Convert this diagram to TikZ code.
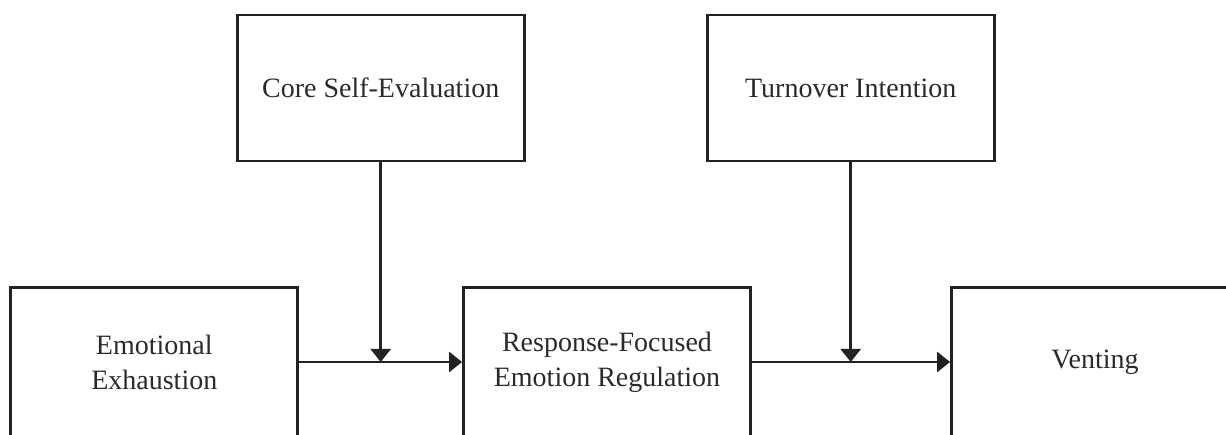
\documentclass[tikz,border=0pt]{standalone}
\usepackage{fontspec}
\setmainfont{Liberation Serif}
\usetikzlibrary{arrows.meta}
\definecolor{ink}{HTML}{222222}
\definecolor{txt}{HTML}{2A2A2A}
\begin{document}
\begin{tikzpicture}[x=1pt,y=-1pt,
  box/.style={draw=ink,line width=2.8pt,inner sep=0pt,minimum width=287pt,align=center,text=txt,
    font=\fontsize{28}{35}\selectfont},
  lowbox/.style={box,minimum height=149pt},
  topbox/.style={box,minimum height=146pt},
  conn/.style={draw=ink,line width=2.5pt,-{Triangle[width=20pt,length=13pt]}}]
\useasboundingbox (0,0) rectangle (1226,435);
\clip (0,0) rectangle (1226,435);
\node[lowbox] (ee) at (154.3,362) {Emotional\\Exhaustion};
\node[lowbox] (rf) at (607,362) {Response-Focused\\Emotion Regulation};
\node[lowbox] (ve) at (1095,362) {Venting};
\node[topbox] (cse) at (380.7,88) {Core Self-Evaluation};
\node[topbox] (ti) at (850.7,88) {Turnover Intention};
\draw[conn] (ee.east) -- (rf.west);
\draw[conn] (rf.east) -- (ve.west);
\coordinate (m1) at (cse.south |- ee.east);
\coordinate (m2) at (ti.south |- rf.east);
\draw[conn] (cse.south) -- (m1);
\draw[conn] (ti.south) -- (m2);
\end{tikzpicture}
\end{document}
